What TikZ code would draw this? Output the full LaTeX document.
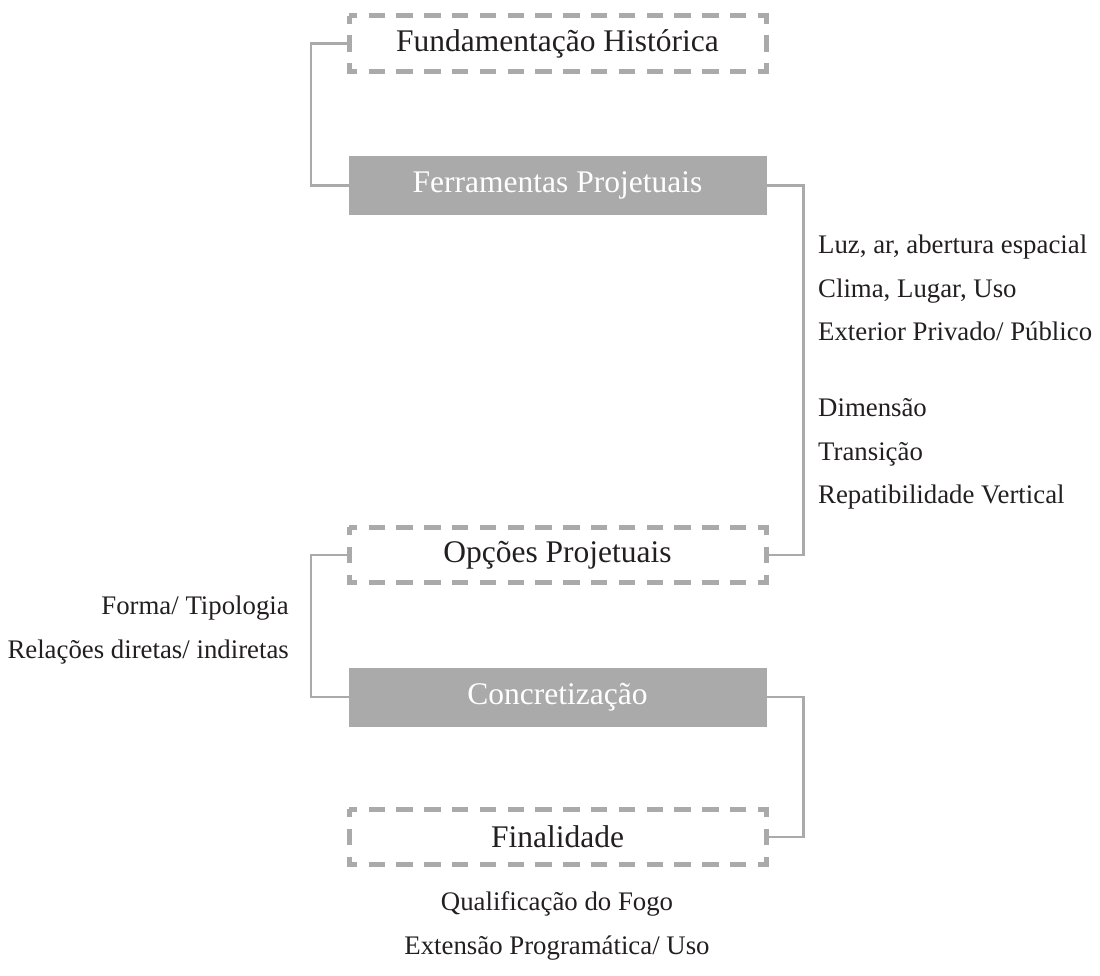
\documentclass[tikz,border=0pt]{standalone}
\usepackage{fontspec}
\setmainfont{Liberation Serif}
\usepackage{xcolor}
\usepackage{tikz}
\definecolor{boxGray}{HTML}{AAAAAA}
\definecolor{inkColor}{HTML}{231F20}

\tikzset{
    stage/.style={minimum width=417pt, minimum height=55.6pt, inner sep=0pt, outer sep=0pt,
        text=inkColor, font=\fontsize{31.5}{36}\selectfont},
    stagefilled/.style={stage, fill=boxGray, text=white, minimum width=418pt, minimum height=59pt},
    frameline/.style={draw=boxGray, line width=5pt, dash pattern=on 16.5pt off 11.3pt, dash phase=8.25pt},
    link/.style={draw=boxGray, line width=2.8pt},
    note/.style={inner sep=0pt, text=inkColor, font=\fontsize{26.8}{43.5}\selectfont},
}

\begin{document}
\begin{tikzpicture}[x=1pt, y=-1pt]
    \useasboundingbox (0,0) rectangle (1100,976);
    % stages
    \node[stage] (hist) at (557.5,43.5) {Fundamentação Histórica};
    \node[stagefilled] (ferr) at (557.5,185.5) {Ferramentas Projetuais};
    \node[stage] (opc) at (557.5,555) {Opções Projetuais};
    \node[stagefilled] (conc) at (557.5,697) {Concretização};
    \node[stage] (fin) at (557.5,837) {Finalidade};
    \foreach \n in {hist,opc,fin}
        \draw[frameline] (\n.north west) rectangle (\n.south east);
    % connectors
    \draw[link] (hist.west) -- ++(-38,0) |- (ferr.west);
    \draw[link] (ferr.east) -- ++(37,0) |- (opc.east);
    \draw[link] (opc.west) -- ++(-38,0) |- (conc.west);
    \draw[link] (conc.east) -- ++(37,0) |- (fin.east);
    % notes
    \node[note, anchor=west, align=left] (ferrnotesA) at (818,288)
        {Luz, ar, abertura espacial\\Clima, Lugar, Uso\\Exterior Privado/ Público};
    \node[note, anchor=west, align=left] (ferrnotesB) at (818,454)
        {Dimensão\\Transição\\Repatibilidade Vertical};
    \node[note, anchor=east, align=right] (opcnotes) at (289,630)
        {Forma/ Tipologia\\Relações diretas/ indiretas};
    \node[note, align=center] (finnotes) at (557,926)
        {Qualificação do Fogo\\Extensão Programática/ Uso};
\end{tikzpicture}
\end{document}
